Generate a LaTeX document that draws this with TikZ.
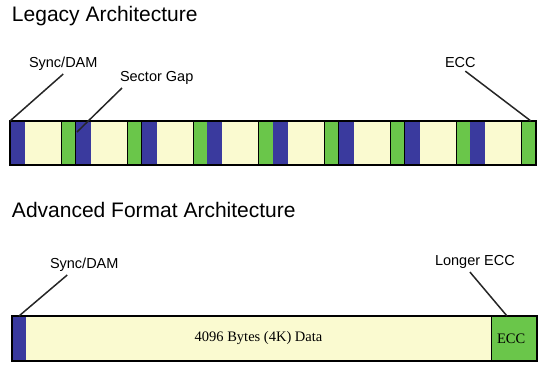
\documentclass[tikz,border=0pt]{standalone}
\usepackage{fontspec}
\setmainfont{Liberation Sans}
\newfontfamily\bodyserif{Liberation Serif}
\usetikzlibrary{positioning}

\definecolor{syncblue}{RGB}{58,58,158}
\definecolor{eccgreen}{RGB}{106,198,74}
\definecolor{datayellow}{RGB}{250,250,208}

\begin{document}
\begin{tikzpicture}[x=1pt, y=-1pt]

\tikzstyle{every node} = [inner sep=0pt, outer sep=0pt]
\tikzstyle{title} = [anchor=base west, font=\fontsize{21}{24}\selectfont]
\tikzstyle{label} = [anchor=base west, inner sep=3pt, font=\fontsize{14.5}{17}\selectfont]
\tikzstyle{syncbox} = [anchor=north west, fill=syncblue, minimum height=44pt, minimum width=15pt]
\tikzstyle{databox} = [anchor=west, fill=datayellow, minimum height=44pt, minimum width=36.5pt]
\tikzstyle{eccbox} = [anchor=west, fill=eccgreen, draw=black, line width=1pt, minimum height=44pt, minimum width=14.25pt]
\tikzstyle{leader} = [line width=1.5pt, black!85]

\useasboundingbox (0,0) rectangle (544,379);

\node[title] (legacy) at (12,22) {Legacy Architecture};
\node[label] (syncA) at (26,68) {Sync/DAM};
\node[label] (gapA) at (117,82) {Sector Gap};
\node[label] (eccA) at (442,68) {ECC};

\foreach \i in {0,...,7} {
  \pgfmathsetmacro\x{10+65.75*\i}
  \node[syncbox] (sync\i) at (\x,121) {};
  \node[databox, right=0pt of sync\i] (data\i) {};
  \node[eccbox, right=0pt of data\i] (ecc\i) {};
}
\draw[line width=2.5pt] (sync0.north west) rectangle (ecc7.south east);

\coordinate (gap) at (77,132);
\draw[leader] (syncA.south) -- (sync0.north west);
\draw[leader] ([xshift=5pt]gapA.south west) -- (gap);
\draw[leader] ([xshift=5pt]eccA.south) -- ([xshift=2pt]ecc7.north);

\node[title] (advanced) at (12,218) {Advanced Format Architecture};
\node[label] (syncB) at (47,269) {Sync/DAM};
\node[label] (longer) at (432,266) {Longer ECC};

\node[syncbox, minimum width=14pt, minimum height=45pt] (sync) at (12,316) {};
\node[databox, minimum width=465pt, minimum height=45pt, right=0pt of sync,
  font=\bodyserif\fontsize{14.5}{17}\selectfont] (data) {4096 Bytes (4K) Data};
\node[eccbox, minimum width=46pt, minimum height=45pt, right=0pt of data,
  font=\bodyserif\fontsize{14.5}{17}\selectfont, text width=34pt] (ecc) {ECC};
\draw[line width=2.5pt] (sync.north west) rectangle (ecc.south east);

\draw[leader] ([xshift=-17pt]syncB.south) -- (sync.north);
\draw[leader] ([xshift=-5pt]longer.south) -- ([xshift=-7pt]ecc.north);

\end{tikzpicture}
\end{document}
